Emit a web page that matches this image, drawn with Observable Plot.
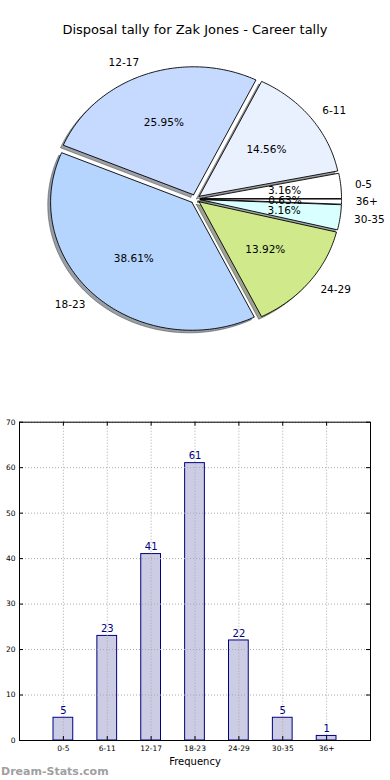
<!DOCTYPE html>
<html>
<head>
<meta charset="utf-8">
<script src="https://cdn.jsdelivr.net/npm/d3@7"></script>
<script src="https://cdn.jsdelivr.net/npm/@observablehq/plot@0.6"></script>
<style>
  html, body { margin: 0; padding: 0; background: #fff; }
  body { width: 390px; height: 780px; overflow: hidden; font-family: "DejaVu Sans", sans-serif; }
  #title { height: 50px; box-sizing: border-box; padding-top: 22px; line-height: 16px; text-align: center; font-size: 13px; color: #000; }
  #wm { height: 15px; line-height: 13px; font-size: 11px; font-weight: bold; color: #a0a0a0; padding-left: 1px; }
  svg { display: block; overflow: visible; }
</style>
</head>
<body>
<div id="title">Disposal tally for Zak Jones - Career tally</div>
<div id="pie"></div>
<div id="bars"></div>
<div id="wm">Dream-Stats.com</div>
<script>
const categories = ["0-5", "6-11", "12-17", "18-23", "24-29", "30-35", "36+"];
const counts = [5, 23, 41, 61, 22, 5, 1];
const sliceColors = ["#ffffff", "#e9f1ff", "#c6d9ff", "#b5d5ff", "#cfe98b", "#d9ffff", "#ffffff"];
const yTicks = [0, 10, 20, 30, 40, 50, 60, 70];

const total = d3.sum(counts);
const explode = 0.035;

// ---- Pie geometry from data ----
let cum = 0;
const slices = counts.map((v, i) => {
  const a1 = cum / total * 2 * Math.PI;
  cum += v;
  const a2 = cum / total * 2 * Math.PI;
  const m = (a1 + a2) / 2;
  return {i, cat: categories[i], v, a1, a2, m, ox: explode * Math.cos(m), oy: explode * Math.sin(m), color: sliceColors[i]};
});
function shade(c) { const r = d3.rgb(c); return d3.rgb(r.r * 0.3, r.g * 0.3, r.b * 0.3).formatHex(); }
const polys = [];
const shadowPolys = [];
slices.forEach(s => {
  const n = Math.max(4, Math.ceil((s.a2 - s.a1) / (Math.PI / 180)));
  const pts = [[s.ox, s.oy]];
  for (let k = 0; k <= n; k++) {
    const t = s.a1 + (s.a2 - s.a1) * k / n;
    pts.push([s.ox + Math.cos(t), s.oy + Math.sin(t)]);
  }
  pts.push([s.ox, s.oy]);
  pts.forEach(p => {
    polys.push({key: s.cat, x: p[0], y: p[1], color: s.color});
    shadowPolys.push({key: s.cat, x: p[0] - 0.02, y: p[1] - 0.02, color: shade(s.color)});
  });
});
const labels = slices.map(s => {
  const x = s.ox + 1.1 * Math.cos(s.m), y = s.oy + 1.1 * Math.sin(s.m);
  return {x, y, text: s.cat};
});
const pcts = slices.map(s => ({
  x: s.ox + 0.6 * Math.cos(s.m), y: s.oy + 0.6 * Math.sin(s.m),
  text: (s.v / total * 100).toFixed(2) + "%"
}));

const cx = 194.8, cy = 148.5, rx = 141.3, ry = 128;
const pie = Plot.plot({
  width: 390, height: 340,
  margin: 0,
  x: {domain: [-1, 1], range: [cx - rx, cx + rx], axis: null},
  y: {domain: [-1, 1], range: [cy + ry, cy - ry], axis: null},
  color: {type: "identity"},
  style: {fontFamily: "DejaVu Sans, sans-serif", background: "transparent"},
  marks: [
    Plot.line(shadowPolys, {x: "x", y: "y", z: "key", fill: "color", fillOpacity: 0.5, stroke: "color", strokeOpacity: 0.5, strokeWidth: 1, curve: "linear"}),
    Plot.line(polys, {x: "x", y: "y", z: "key", fill: "color", stroke: "#000", strokeWidth: 0.9, curve: "linear"}),
    Plot.text(labels.filter(d => d.x > 0), {x: "x", y: "y", text: "text", textAnchor: "start", fontSize: 10.5, fill: "#000", lineAnchor: "middle"}),
    Plot.text(labels.filter(d => d.x <= 0), {x: "x", y: "y", text: "text", textAnchor: "end", fontSize: 10.5, fill: "#000", lineAnchor: "middle"}),
    Plot.text(pcts, {x: "x", y: "y", text: "text", fontSize: 10.5, fill: "#000", lineAnchor: "middle"})
  ]
});
document.getElementById("pie").append(pie);

// ---- Bar chart ----
const barData = categories.map((c, i) => ({cat: c, v: counts[i]}));
const bars = Plot.plot({
  width: 390, height: 375,
  marginLeft: 19, marginRight: 20, marginTop: 31.7, marginBottom: 25,
  x: {domain: categories, type: "band", round: false, paddingInner: 0.55, paddingOuter: 0.775, align: 0.5, label: null, tickSize: 0, tickPadding: 5},
  y: {domain: [0, 70], label: null, ticks: yTicks, tickSize: 0, tickPadding: 4},
  style: {fontFamily: "DejaVu Sans, sans-serif", fontSize: "7.5px", color: "#000", background: "transparent"},
  marks: [
    Plot.barY(barData, {x: "cat", y: "v", fill: "#cccce4", stroke: "#000080", strokeWidth: 1, inset: 0}),
    Plot.gridX({stroke: "#aaa", strokeOpacity: 1, strokeDasharray: "1,2"}),
    Plot.gridY(yTicks, {stroke: "#aaa", strokeOpacity: 1, strokeDasharray: "1,2"}),
    Plot.ruleY(yTicks, {stroke: "#000", strokeWidth: 1, strokeDasharray: "4,343,4"}),
    Plot.ruleX(categories, {stroke: "#000", strokeWidth: 1, strokeDasharray: "4,310.3,4"}),
    Plot.frame({stroke: "#000", strokeWidth: 1}),
    Plot.text(barData, {x: "cat", y: "v", text: d => String(d.v), fill: "#000080", fontSize: 10, dy: -7, lineAnchor: "middle"}),
    Plot.text(["Frequency"], {frameAnchor: "bottom", dy: 21, fontSize: 10, fill: "#000", lineAnchor: "middle"})
  ]
});
document.getElementById("bars").append(bars);
</script>
</body>
</html>
